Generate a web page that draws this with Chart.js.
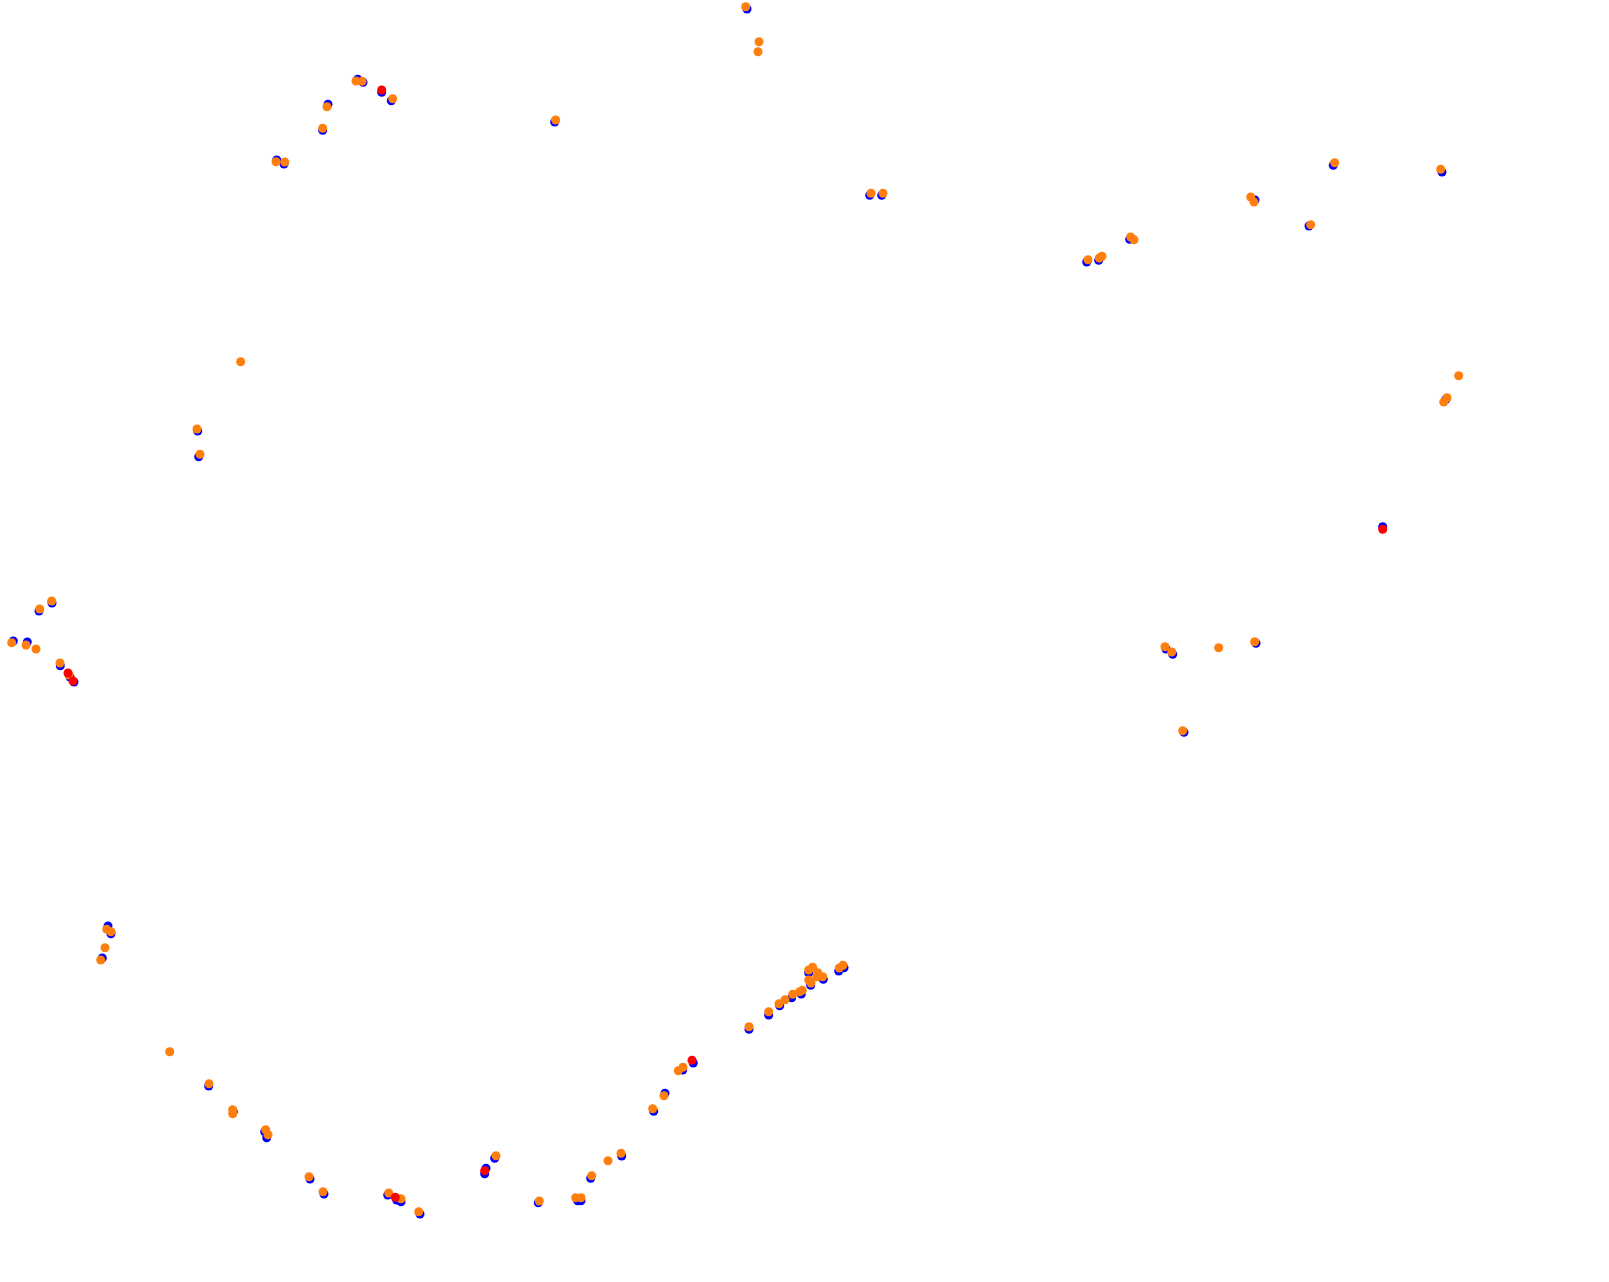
<!DOCTYPE html>
<html>
<head>
<meta charset="utf-8">
<script src="https://cdn.jsdelivr.net/npm/chart.js@4/dist/chart.umd.min.js"></script>
<style>
  html, body { margin: 0; padding: 0; background: #ffffff; }
  #wrap { width: 1609px; height: 1282px; }
</style>
</head>
<body>
<div id="wrap"><canvas id="track-chart" width="1609" height="1282"></canvas></div>
<script>
// x / y positions of the samples, one pair of arrays per series
const blueX = [
    39, 13.3, 27.3, 60.3, 70, 74, 52,
    357.7, 363, 381.7, 391.3, 328, 322.7, 276.7, 284, 554.7, 197.7, 198.7,
    747, 869.7, 881.7,
    1333.3, 1442, 1255, 1309, 1129.7, 1086.7, 1098.7, 1446,
    1382.7, 1166, 1172.7, 1256, 1184,
    108, 111, 102.3, 208.7, 233.3, 264.7, 266.7, 310, 324, 387.7, 396.7, 401, 420,
    538.3, 577.7, 581, 486, 484.7, 494.7, 590.7, 621.7, 653.7, 665, 682.7, 693.3,
    749, 768.7, 779.7, 791.7, 801.3, 808.7, 823.3, 810.7, 838.7, 844
];
const blueY = [
    611, 641, 642, 665.7, 677, 682, 603,
    79.3, 82.3, 92.3, 100.7, 104.3, 130.3, 160, 164, 122, 431, 456.7,
    9, 195.3, 195.3,
    165.3, 172, 200, 226, 239.3, 262, 260.3, 399.3,
    526.7, 649, 654.3, 643.3, 732.3,
    926, 933.7, 958, 1086, 1111.7, 1131.7, 1137.7, 1179, 1194, 1195, 1200, 1201.7, 1214,
    1202.7, 1200.7, 1200.7, 1168.3, 1173.7, 1158.3, 1178.3, 1156, 1111.3, 1093.3, 1070, 1063,
    1029.3, 1015, 1005.7, 997.7, 994, 972.7, 979.3, 985.3, 971, 967.7
];

const orangeX = [
    51.7, 39.7, 11.7, 26, 36, 60, 69,
    356, 362, 392.7, 327, 322.7, 276, 284.7, 555.7, 240.7, 197, 200,
    745.7, 759, 758, 871, 883,
    1334.7, 1440.7, 1250.7, 1254, 1310.7, 1130.7, 1134, 1088, 1099.3, 1102,
    1458.7, 1447, 1443.7,
    1165, 1171.7, 1218.7, 1254.7, 1182.7,
    106.7, 111, 105, 100.7, 169.7, 209, 232.7, 232.7, 265.7, 268, 309, 323, 388.7, 401, 418.7,
    539.3, 575.7, 581, 496, 591.7, 608, 621, 652.7, 664, 678.3, 683,
    749, 768.7, 779, 785, 792.7, 799.7, 802.3, 808.7, 812.7, 817.7, 822.7, 816.7,
    808.7, 811, 839.3, 843
];
const orangeY = [
    601, 609, 642.7, 645, 649, 663, 675,
    81, 81.3, 98.7, 106.7, 128.3, 161.7, 162, 120, 361.7, 429, 454.3,
    6.7, 41.7, 51.7, 193.3, 193.3,
    162.7, 169.3, 197, 202, 224.7, 237, 239.7, 259.7, 258, 256.3,
    375.7, 397.7, 402,
    646.7, 652, 647.7, 641.7, 730.7,
    929.3, 931.7, 947.7, 960, 1051.7, 1083.7, 1109.7, 1113.7, 1129.7, 1134.7, 1176.7, 1191.7, 1193, 1198.7, 1211.7,
    1201, 1197.7, 1197.7, 1155.7, 1175.7, 1160.7, 1153.3, 1108.7, 1095.7, 1070.7, 1067.3,
    1026.7, 1011.7, 1003.7, 999.7, 994.3, 991.7, 990.3, 970, 967.3, 972.7, 976.7, 976.7,
    980, 983, 968, 965.3
];

const redX = [68, 73, 381.7, 1382.7, 395.3, 484.7, 692];
const redY = [673, 681, 90, 529.3, 1197.3, 1170.7, 1060.3];

const toPoints = (xs, ys) => xs.map((x, i) => ({ x: x, y: ys[i] }));

const pointStyle = color => ({
    backgroundColor: color,
    borderColor: color,
    pointRadius: 4.5,
    pointBorderWidth: 0,
    pointHoverRadius: 4.5
});

// first dataset is painted last, so red ends up on top and blue underneath
const ctx = document.getElementById('track-chart').getContext('2d');
new Chart(ctx, {
    type: 'scatter',
    data: {
        datasets: [
            { label: 'red', data: toPoints(redX, redY), ...pointStyle('#ff0000') },
            { label: 'orange', data: toPoints(orangeX, orangeY), ...pointStyle('#ff7f0e') },
            { label: 'blue', data: toPoints(blueX, blueY), ...pointStyle('#0000ff') }
        ]
    },
    options: {
        responsive: false,
        animation: false,
        layout: { padding: 0, autoPadding: false },
        plugins: {
            legend: { display: false },
            tooltip: { enabled: false }
        },
        scales: {
            x: { type: 'linear', min: 0, max: 1609, display: false },
            y: { type: 'linear', min: 0, max: 1282, reverse: true, display: false }
        }
    }
});
</script>
</body>
</html>
